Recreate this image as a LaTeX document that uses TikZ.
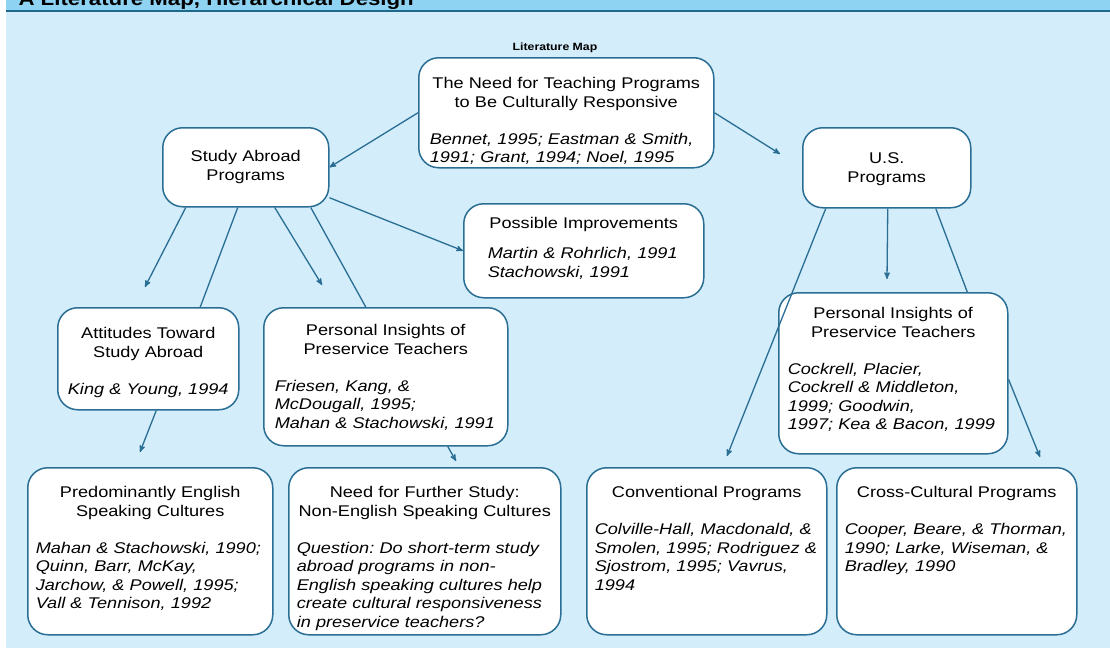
\documentclass[tikz,border=0pt]{standalone}
\usepackage{fontspec}
\setmainfont{Liberation Sans}[FakeStretch=1.17]
\frenchspacing
\usetikzlibrary{positioning, arrows}
\definecolor{mapbg}{HTML}{D3EDFA}
\definecolor{mapband}{HTML}{8FD3F2}
\definecolor{mapline}{HTML}{1F6A8A}
\definecolor{boxline}{HTML}{2A6E94}
\newcommand{\boxtitle}[1]{{\centering #1\par}}
\newcommand{\boxrefs}[2][18.5pt]{\vspace{#1}{\itshape #2\par}}
\tikzset{
	>=stealth', % arrow heads
	box/.style={draw=boxline, line width=1.5pt, fill=white, rounded corners=20pt, anchor=north west, inner ysep=0pt, inner xsep=8pt, align=left, font=\fontsize{15.5}{18.5}\selectfont}, % every box of the map
	link/.style={draw=boxline, line width=1.3pt}, % plain connector
	arr/.style={link, ->}, % connector with a head
}

\begin{document}
\begin{tikzpicture}[x=1pt, y=-1pt]
	\clip (0,0) rectangle (1110,648);
	\fill[mapbg] (0,0) rectangle (1110,648);
	\fill[mapband] (6,0) rectangle (1110,10);
	\draw[mapline, line width=2pt] (6,10.5) -- (1110,10.5);
	\fill[white] (0,0) rectangle (6,648);
	\node[anchor=base west, font=\fontsize{19}{22}\selectfont\bfseries] (heading) at (15,5) {A Literature Map, Hierarchical Design};
	\node[anchor=base, font=\fontsize{10.5}{12}\selectfont\bfseries] (title) at (555,50) {Literature Map};

	% top row
	\node[box, text width=273pt, inner xsep=11pt, text height=31pt, text depth=79pt] (need) at (418,57)
		{\boxtitle{The Need for Teaching Programs\\to Be Culturally Responsive}\boxrefs{Bennet, 1995; Eastman \& Smith,\\1991; Grant, 1994; Noel, 1995}};
	\node[box, text width=150pt, text height=34pt, text depth=45pt] (abroad) at (162,127) {\boxtitle{Study Abroad\\Programs}};
	\node[box, text width=152pt, text height=36pt, text depth=44pt] (us) at (802,127) {\boxtitle{U.S.\\Programs}};
	\node[box, text width=192pt, inner xsep=24pt, text height=25pt, text depth=69pt] (improve) at (463,203)
		{\boxtitle{Possible Improvements}\boxrefs[11.5pt]{Martin \& Rohrlich, 1991\\Stachowski, 1991}};

	% middle row
	\node[box, text width=165pt, text height=31pt, text depth=71pt] (attitudes) at (57,307)
		{\boxtitle{Attitudes Toward\\Study Abroad}\boxrefs{\centering King \& Young, 1994}};
	\node[box, text width=222pt, inner xsep=11pt, text height=28pt, text depth=110pt] (pileft) at (263,307)
		{\boxtitle{Personal Insights of\\Preservice Teachers}\boxrefs{Friesen, Kang, \&\\McDougall, 1995;\\Mahan \& Stachowski, 1991}};
	\node[box, text width=211pt, inner xsep=9pt, text height=26pt, text depth=135pt] (piright) at (778,292)
		{\boxtitle{Personal Insights of\\Preservice Teachers}\boxrefs{Cockrell, Placier,\\Cockrell \& Middleton,\\1999; Goodwin,\\1997; Kea \& Bacon, 1999}};

	% bottom row
	\node[box, text width=229pt, text height=30pt, text depth=137pt] (english) at (27,467)
		{\boxtitle{Predominantly English\\Speaking Cultures}\boxrefs{Mahan \& Stachowski, 1990;\\Quinn, Barr, McKay,\\Jarchow, \& Powell, 1995;\\Vall \& Tennison, 1992}};
	\node[box, text width=256pt, text height=30pt, text depth=137pt] (further) at (288,467)
		{\boxtitle{Need for Further Study:\\Non-English Speaking Cultures}\boxrefs{Question: Do short-term study\\abroad programs in non-\\English speaking cultures help\\create cultural responsiveness\\in preservice teachers?}};
	\node[box, text width=224pt, text height=30pt, text depth=137pt] (conv) at (586,467)
		{\boxtitle{Conventional Programs}\boxrefs{Colville-Hall, Macdonald, \&\\Smolen, 1995; Rodriguez \&\\Sjostrom, 1995; Vavrus,\\1994}};
	\node[box, text width=224pt, text height=30pt, text depth=137pt] (cross) at (836,467)
		{\boxtitle{Cross-Cultural Programs}\boxrefs{Cooper, Beare, \& Thorman,\\1990; Larke, Wiseman, \&\\Bradley, 1990}};

	% loose arrow ends
	\coordinate (tipa) at (145,287);
	\coordinate (tipc) at (322,285);
	\coordinate (tipe) at (140,452);
	\coordinate (tipf) at (456,461);
	\coordinate (tipg) at (727,456);
	\coordinate (tiph) at (887,279);
	\coordinate (tipj) at (1040,457);

	\draw[arr] (need.west) -- (abroad.east);
	\draw[arr, shorten >=26pt] (need.east) -- (us.west);
	\draw[arr] (abroad.-20) -- (improve.west);
	\draw[arr] ([xshift=-60pt]abroad.south) -- (tipa);
	\draw[link] ([xshift=-8pt]abroad.south) -- ([xshift=52pt]attitudes.north);
	\draw[arr] ([xshift=29pt]abroad.south) -- (tipc);
	\draw[link] ([xshift=65pt]abroad.south) -- ([xshift=-20pt]pileft.north);
	\draw[arr] ([xshift=8pt]attitudes.south) -- (tipe);
	\draw[arr] ([xshift=62pt]pileft.south) -- (tipf);
	\draw[arr] ([xshift=-61pt]us.south) -- (tipg);
	\draw[arr] ([xshift=1pt]us.south) -- (tiph);
	\draw[link] ([xshift=49pt]us.south) -- ([xshift=74pt]piright.north);
	\draw[arr] ([yshift=-6pt]piright.east) -- (tipj);
\end{tikzpicture}
\end{document}
